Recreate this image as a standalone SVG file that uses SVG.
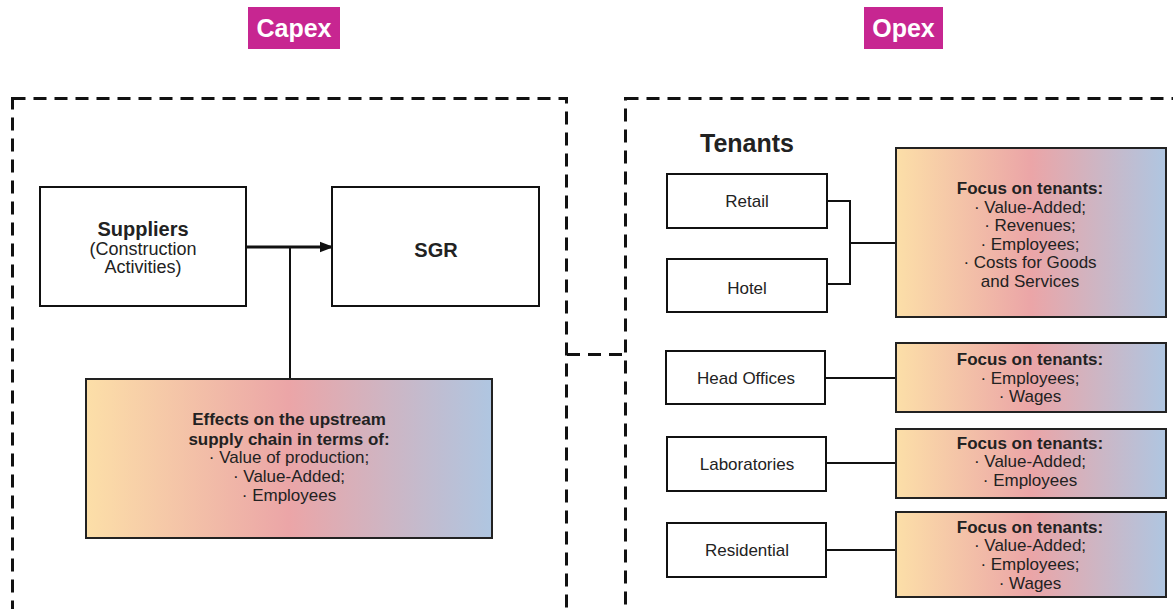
<svg xmlns="http://www.w3.org/2000/svg" width="1173" height="609" viewBox="0 0 1173 609">
  <defs>
    <linearGradient id="warmCool" x1="0" y1="0" x2="1" y2="0">
      <stop offset="0" stop-color="#FCDFA8"/>
      <stop offset="0.5" stop-color="#EBA5A7"/>
      <stop offset="1" stop-color="#AFC6E1"/>
    </linearGradient>
    <marker id="arrow" viewBox="0 0 10 10" refX="9" refY="5" markerWidth="4.5" markerHeight="4.5" orient="auto" markerUnits="strokeWidth">
      <path d="M0,1 L10,5 L0,9 Z" fill="#111"/>
    </marker>
    <style>
      text { font-family: "Liberation Sans", Arial, sans-serif; fill: #222; text-anchor: middle; }
      .tag { fill: #C72691; }
      .tagtext { fill: #fff; font-weight: bold; font-size: 25px; }
      .frame { fill: none; stroke: #111; stroke-width: 3; stroke-dasharray: 13 8; }
      .box { fill: #fff; stroke: #111; stroke-width: 2; }
      .grad { fill: url(#warmCool); stroke: #222; stroke-width: 2; }
      .body { font-size: 17px; }
      .b { font-weight: bold; }
      .link { fill: none; stroke: #111; stroke-width: 2; }
    </style>
  </defs>

  <rect width="1173" height="609" fill="#fff"/>

  <!-- section headers -->
  <g id="capex-tag">
    <rect class="tag" x="248" y="7" width="92" height="42"/>
    <text class="tagtext" x="294" y="37">Capex</text>
  </g>
  <g id="opex-tag">
    <rect class="tag" x="864" y="7" width="79" height="42"/>
    <text class="tagtext" x="903.5" y="37">Opex</text>
  </g>

  <!-- dashed section frames -->
  <g id="capex-frame">
    <rect class="frame" x="12.5" y="98.5" width="554" height="512"/>
  </g>
  <g id="opex-frame">
    <rect class="frame" x="625.5" y="98.5" width="560" height="512"/>
  </g>

  <!-- connectors -->
  <g id="connectors">
    <line class="frame" x1="567" y1="354.5" x2="625" y2="354.5"/>
    <line x1="246" y1="247" x2="332" y2="247" stroke="#111" stroke-width="3" marker-end="url(#arrow)"/>
    <line class="link" x1="290" y1="247" x2="290" y2="379"/>
    <polyline class="link" points="827,201 850,201 850,284 827,284"/>
    <line class="link" x1="850" y1="243" x2="896" y2="243"/>
    <line class="link" x1="825" y1="378" x2="896" y2="378"/>
    <line class="link" x1="826" y1="463" x2="896" y2="463"/>
    <line class="link" x1="826" y1="550" x2="896" y2="550"/>
  </g>

  <!-- capex nodes -->
  <g id="suppliers">
    <rect class="box" x="40" y="187" width="206" height="119"/>
    <text class="b" x="143" y="236" font-size="20">Suppliers</text>
    <text x="143" y="255" font-size="18">(Construction</text>
    <text x="143" y="273" font-size="18">Activities)</text>
  </g>
  <g id="sgr">
    <rect class="box" x="332" y="187" width="207" height="119"/>
    <text class="b" x="436" y="257" font-size="20">SGR</text>
  </g>
  <g id="upstream-effects">
    <rect class="grad" x="86" y="379" width="406" height="159"/>
    <text class="body b" x="289" y="425">Effects on the upstream</text>
    <text class="body b" x="289" y="445">supply chain in terms of:</text>
    <text class="body" x="289" y="463">· Value of production;</text>
    <text class="body" x="289" y="482">· Value-Added;</text>
    <text class="body" x="289" y="501">· Employees</text>
  </g>

  <!-- opex nodes -->
  <g id="tenants-title">
    <text class="b" x="747" y="152" font-size="25">Tenants</text>
  </g>
  <g id="retail">
    <rect class="box" x="667" y="174" width="160" height="54"/>
    <text class="body" x="747" y="207" font-size="17.5">Retail</text>
  </g>
  <g id="hotel">
    <rect class="box" x="667" y="259" width="160" height="53"/>
    <text class="body" x="747" y="294" font-size="17.5">Hotel</text>
  </g>
  <g id="focus-retail-hotel">
    <rect class="grad" x="896" y="148" width="270" height="169"/>
    <text class="body b" x="1030" y="194">Focus on tenants:</text>
    <text class="body" x="1030" y="213">· Value-Added;</text>
    <text class="body" x="1030" y="231">· Revenues;</text>
    <text class="body" x="1030" y="250">· Employees;</text>
    <text class="body" x="1030" y="268">· Costs for Goods</text>
    <text class="body" x="1030" y="287">and Services</text>
  </g>

  <g id="head-offices">
    <rect class="box" x="666" y="351" width="159" height="53"/>
    <text class="body" x="746" y="384" font-size="17.5">Head Offices</text>
  </g>
  <g id="focus-head-offices">
    <rect class="grad" x="896" y="343" width="270" height="69"/>
    <text class="body b" x="1030" y="365">Focus on tenants:</text>
    <text class="body" x="1030" y="384">· Employees;</text>
    <text class="body" x="1030" y="402">· Wages</text>
  </g>

  <g id="laboratories">
    <rect class="box" x="667" y="437" width="159" height="54"/>
    <text class="body" x="747" y="470" font-size="17.5">Laboratories</text>
  </g>
  <g id="focus-laboratories">
    <rect class="grad" x="896" y="429" width="270" height="69"/>
    <text class="body b" x="1030" y="449">Focus on tenants:</text>
    <text class="body" x="1030" y="467">· Value-Added;</text>
    <text class="body" x="1030" y="486">· Employees</text>
  </g>

  <g id="residential">
    <rect class="box" x="667" y="523" width="159" height="54"/>
    <text class="body" x="747" y="556" font-size="17.5">Residential</text>
  </g>
  <g id="focus-residential">
    <rect class="grad" x="896" y="512" width="270" height="85"/>
    <text class="body b" x="1030" y="533">Focus on tenants:</text>
    <text class="body" x="1030" y="551">· Value-Added;</text>
    <text class="body" x="1030" y="570">· Employees;</text>
    <text class="body" x="1030" y="589">· Wages</text>
  </g>
</svg>
